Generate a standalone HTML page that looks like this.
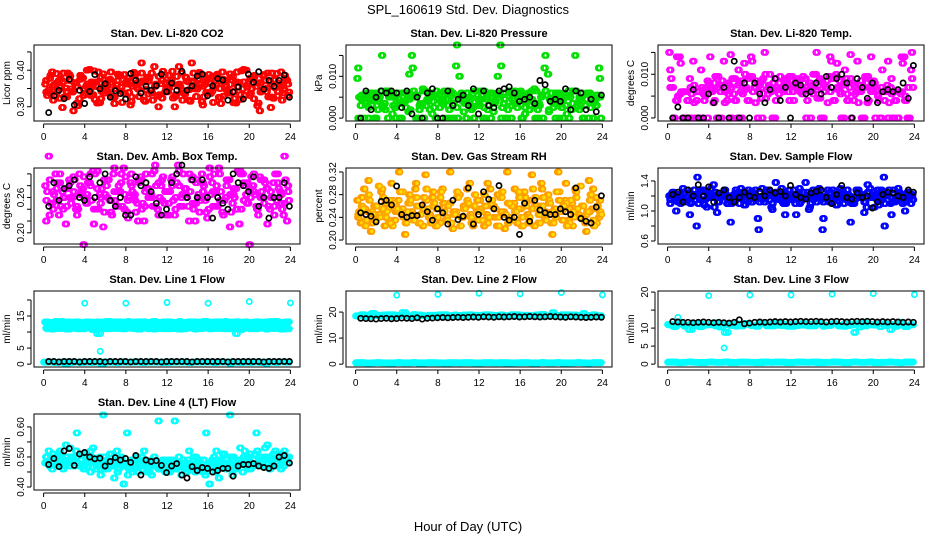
<!DOCTYPE html>
<html><head><meta charset="utf-8"><style>
html,body{margin:0;padding:0;background:#fff;}
svg{display:block;font-family:"Liberation Sans",sans-serif;}
</style></head><body>
<svg id="chart" width="936" height="540" viewBox="0 0 936 540" xmlns="http://www.w3.org/2000/svg">
<rect x="0" y="0" width="936" height="540" fill="#fff"/>
<text x="468" y="14" font-size="13" text-anchor="middle">SPL_160619  Std. Dev. Diagnostics</text>
<text x="468" y="531" font-size="13" text-anchor="middle">Hour of Day (UTC)</text>
</svg>
<script>
const xTicks=[0,4,8,12,16,20,24];
const co2A=[362,345,395,330,372,298,351,388,340,365,322,379,356,402,333,368,311,390,347,375,326,360,384,338,371,305,394,352,366,318,381,345,410,329,363,386,341,372,300,357,392,335,368,420,349,377,314,362,388,343,371,326,395,358,337,382,310,366,349,400,331,375,356,289,384,342,369,323,391,355,338,372];
const co2B=[340,378,318,365,352,392,327,371,344,310,386,349,362,331,398,355,322,374,341,367,309,389,353,336,379,327,361,348,392,315,370,338,356,383,324,366,351,397,333,362,318,380,347,371,328,390,356,339,365,312,384,350,329,373,361,342,395,320,368,354,337,381,303,366,349,392,327,375,342,360,386,331];
const co2K=[284,330,345,322,375,305,345,309,342,388,349,363,326,344,336,321,391,372,337,356,345,358,389,341,365,345,397,345,357,384,389,330,357,377,373,318,340,354,321,389,367,396,348,372,356,372,387,326];
const presA=[95,30,0,60,45,0,20,65,35,0,50,25,60,0,40,15,150,55,0,30,65,45,10,0,55,35,0,20,60,125,100,40,0,50,25,65,30,0,45,60,15,55,175,35,0,60,45,25,65,40,55,30,70,20,50,120,105,60,35,45,25,55,65,20,150,40,60,30,0,55,45,120];
const presB=[0,55,40,25,60,0,45,30,65,50,10,0,35,60,25,45,55,0,30,65,40,20,55,0,60,35,45,65,0,25,50,40,60,30,0,55,45,65,20,50,35,60,0,45,55,30,65,40,50,25,60,45,0,35,55,65,20,45,60,0,40,30,55,65,25,50,0,45,60,35,55,50];
const presK=[0,65,20,50,65,60,65,60,25,65,10,50,0,60,70,0,0,65,30,45,55,30,70,10,65,30,25,65,70,75,60,40,45,50,35,90,80,40,45,40,70,20,65,60,20,45,15,55];
const tempA=[150,70,40,140,0,60,90,130,40,0,55,70,140,35,0,60,130,40,145,55,0,60,125,40,140,70,0,45,150,55,60,0,65,70,85,60,95,80,70,55,90,65,75,100,85,80,70,95,90,100,85,75,90,70,80,60,75,0,80,70,85,65,0,60,75,70,0,60,55,140,0,110];
const tempB=[70,0,40,125,60,40,0,35,60,110,40,0,65,40,95,0,35,55,0,40,110,0,65,40,130,35,60,0,45,70,0,40,80,65,90,40,75,85,60,95,70,80,100,65,90,75,85,60,95,70,55,80,40,90,75,60,85,70,95,60,80,50,70,60,0,55,40,0,60,50,0,90];
const tempK=[0,25,0,0,65,0,0,55,35,0,70,0,130,0,80,0,80,55,35,65,90,40,70,0,80,75,55,60,80,55,95,70,90,100,80,0,90,70,45,80,35,60,65,60,65,80,45,120];
const ambA=[280,330,250,300,230,270,215,290,260,240,300,275,250,285,305,240,265,210,280,255,300,245,270,310,235,285,260,250,295,220,275,265,305,240,280,250,270,290,230,315,260,275,245,290,220,265,300,255,240,285,270,310,235,260,290,250,275,215,300,265,180,280,245,295,260,275,240,285,255,270,230,220];
const ambB=[255,290,240,275,300,260,245,285,270,230,265,295,250,280,240,305,260,235,290,255,270,245,300,265,225,280,255,290,240,270,260,300,245,285,255,270,230,295,260,280,245,265,300,250,285,235,270,260,295,245,280,255,230,290,265,275,240,300,255,285,260,270,240,290,250,275,260,245,285,265,250,270];
const ambK=[245,285,255,275,280,290,260,255,295,260,285,300,255,245,260,230,230,295,280,285,270,250,230,240,285,300,315,260,290,260,290,260,225,260,250,240,300,285,280,270,295,245,260,225,260,260,285,245];
const rhA=[270,230,290,250,215,260,240,285,225,255,300,235,270,245,210,265,250,290,230,260,315,240,275,225,255,290,235,265,220,250,280,240,260,300,225,255,270,235,245,290,260,225,275,250,320,240,265,230,255,285,245,270,225,260,300,240,280,230,255,320,250,270,235,265,290,245,260,230,305,255,275,240];
const rhB=[245,260,225,280,250,235,295,255,240,270,225,260,250,285,230,265,245,275,230,255,290,240,260,225,275,250,235,265,245,285,225,255,270,240,260,235,250,280,230,265,255,240,275,245,230,260,250,285,240,265,230,255,275,245,260,235,270,250,240,285,255,265,230,250,275,240,260,245,270,235,255,250];
const rhK=[248,245,242,232,268,270,262,295,245,240,243,243,262,250,235,255,248,228,270,236,242,292,228,245,285,272,255,296,240,235,240,210,265,233,270,253,248,245,245,255,250,245,292,238,233,230,258,278];
const flowA=[120,125,100,118,130,112,95,122,80,115,128,105,120,135,98,118,125,110,85,122,118,130,108,115,125,120,90,118,112,128,105,120,116,130,95,118,122,110,125,115,138,102,120,118,130,75,120,112,128,108,118,125,115,120,110,128,118,122,105,130,118,115,125,145,120,110,128,115,122,118,125,110];
const flowB=[115,118,122,110,125,118,112,128,120,115,108,122,118,125,112,120,128,115,110,122,118,125,115,120,112,128,118,115,122,120,110,125,118,112,122,128,115,120,110,125,118,122,115,128,120,112,118,125,115,120,122,110,128,118,115,122,120,112,125,118,120,115,128,110,122,118,115,125,120,112,118,122];
const flowK=[122,125,112,128,120,135,120,132,112,124,128,118,112,118,125,120,118,126,120,128,124,126,120,134,122,118,116,124,126,128,118,110,122,134,118,116,124,118,120,104,112,122,125,124,120,118,128,125];
const l1Hi=[13.1,13.0,13.3,12.9,13.2,13.0,13.1,12.8,13.2,13.0,12.9,13.1,13.3,13.0,13.2,13.1,12.9,13.0,13.2,13.1,13.0,13.3,12.9,13.1,13.2,13.0,13.1,12.9,13.2,13.0,13.1,13.3,13.0,12.9,13.2,13.1,13.0,13.2,13.1,12.9,13.0,13.2,13.1,13.0,13.3,13.1,13.0,13.2];
const l1Lo=[11.2,11.0,11.3,11.1,10.9,11.2,11.0,11.1,11.3,10.8,9.5,11.0,11.2,11.1,11.3,11.0,11.2,11.1,10.9,11.2,11.0,11.3,11.1,11.0,11.2,11.1,10.9,11.2,11.3,11.0,11.1,11.2,11.0,11.1,11.3,11.0,11.2,11.1,10.9,11.2,11.0,11.1,11.3,11.0,11.2,11.1,10.9,11.0];
const l1Zero=[0.6,0.7,0.5,0.6,0.2,0.7,0.6,0.5,0.7,0.6,0.6,0.2,0.7,0.6,0.5,0.7,0.6,0.6,0.7,0.5,0.6,0.7,0.6,0.5,0.7,0.6,0.6,0.7,0.5,0.6,0.7,0.6,0.6,0.5,0.7,0.6,0.7,0.6,0.5,0.6,0.7,0.6,0.5,0.7,0.6,0.6,0.7,0.6];
const l1K=[0.8,0.8,0.7,0.8,0.8,0.8,0.7,0.8,0.8,0.8,0.8,0.7,0.8,0.8,0.8,0.8,0.7,0.8,0.8,0.8,0.8,0.8,0.7,0.8,0.8,0.8,0.8,0.8,0.7,0.8,0.8,0.8,0.8,0.8,0.8,0.7,0.8,0.8,0.8,0.8,0.8,0.8,0.7,0.8,0.8,0.8,0.8,0.8];
const l1OutH=[4,5.5,8,12,16,20,24];
const l1Out=[19,4,19,19.2,19,19.5,19.1];
const l2Band=[18.5,19.0,18.2,19.5,18.6,18.4,19.0,18.3,18.7,19.8,18.5,18.2,18.9,18.6,18.4,18.8,18.5,19.0,18.6,18.3,18.7,18.9,18.5,18.6,18.8,19.0,18.4,18.7,18.9,18.6,18.5,19.0,18.7,18.8,18.6,18.9,19.1,18.5,18.8,18.7,19.0,18.6,18.9,18.8,18.5,18.7,18.9,18.6];
const l2Zero=[0.5,0.6,0.4,0.5,0.6,0.5,0.4,0.5,0.6,0.5,0.5,0.6,0.4,0.5,0.6,0.5,0.5,0.4,0.6,0.5,0.5,0.6,0.5,0.4,0.5,0.6,0.5,0.5,0.6,0.4,0.5,0.5,0.6,0.5,0.4,0.5,0.6,0.5,0.5,0.6,0.4,0.5,0.5,0.6,0.5,0.4,0.5,0.6];
const l2K=[17.6,17.5,17.4,17.3,17.5,17.6,17.4,17.5,17.7,17.6,17.5,17.8,17.3,17.6,17.7,17.8,17.9,17.8,17.9,18.0,17.9,18.0,18.1,18.0,18.2,18.1,18.0,18.2,18.1,18.2,18.3,18.1,18.2,18.3,18.2,18.1,18.2,18.3,18.2,18.1,18.0,18.2,18.1,18.0,17.9,18.0,18.1,18.0];
const l2OutH=[4,8,12,16,20,24];
const l2Out=[26.5,26.8,27.2,27.0,27.5,26.6];
const l3Band=[11.0,10.5,11.6,10.8,9.6,11.2,10.4,11.0,10.9,11.5,10.3,8.8,10.7,11.1,10.6,11.3,10.8,10.5,11.2,10.9,10.6,11.4,10.7,11.0,10.5,11.2,10.8,11.1,10.6,11.3,10.9,10.7,11.2,10.8,10.5,11.1,10.9,11.3,10.6,11.0,10.8,11.2,10.7,11.0,10.5,11.1,10.4,10.9];
const l3Zero=[0.5,0.6,0.4,0.5,0.6,0.5,0.4,0.5,0.6,0.5,0.5,0.6,0.4,0.5,0.6,0.5,0.5,0.4,0.6,0.5,0.5,0.6,0.5,0.4,0.5,0.6,0.5,0.5,0.6,0.4,0.5,0.5,0.6,0.5,0.4,0.5,0.6,0.5,0.5,0.6,0.4,0.5,0.5,0.6,0.5,0.4,0.5,0.6];
const l3K=[11.8,11.7,11.6,11.6,11.5,11.6,11.7,11.6,11.5,11.6,11.5,11.4,11.6,12.3,11.2,11.4,11.6,11.7,11.6,11.7,11.8,11.7,11.8,11.7,11.8,11.9,11.8,11.8,11.9,11.8,11.7,11.8,11.9,11.8,11.7,11.8,11.9,11.8,11.9,11.8,11.7,11.8,11.7,11.8,11.7,11.6,11.7,11.6];
const l3OutH=[1,4,5.5,8,12,16,20,24];
const l3Out=[13,19,4.5,19.2,19.2,19.4,19.6,19.3];
const l4A=[480,520,460,500,510,470,540,490,500,520,470,510,495,480,530,460,500,640,490,510,470,520,480,410,580,460,490,500,470,520,450,480,500,470,460,490,450,480,620,470,440,460,490,470,450,480,460,440,470,490,450,430,470,460,480,440,470,490,450,480,460,470,580,490,470,500,460,510,480,490,470,500];
const l4B=[500,490,510,470,520,480,500,530,490,480,510,470,500,520,480,490,460,500,480,510,470,490,500,480,470,490,460,480,500,470,450,490,470,460,480,450,470,490,460,480,470,450,480,460,470,490,450,460,480,470,460,490,470,480,460,490,470,480,500,470,460,490,480,470,500,480,490,470,500,480,490,480];
const l4K=[475,495,468,520,528,472,510,515,500,494,496,470,485,498,490,495,482,505,440,490,485,488,472,448,470,478,440,430,468,455,465,462,450,455,462,462,436,470,475,475,478,470,465,462,470,500,505,480];

const NS="http://www.w3.org/2000/svg";
const svg=document.getElementById('chart');
function mk(tag,attrs,parent){const e=document.createElementNS(NS,tag);for(const k in attrs)e.setAttribute(k,attrs[k]);(parent||svg).appendChild(e);return e;}
function hoursFor(n,start,end){const h=[];for(let i=0;i<n;i++)h.push(start+(end-start)*i/(n-1));return h;}

const cloudReps=[0,0.08,0.16,0.24];
const bandReps=[0,0.1,0.2,0.3,0.4];
const panels=[
 {name:'co2',title:'Stan. Dev. Li-820 CO2',ylab:'Licor ppm',col:0,row:0,lo:0.261,hi:0.469,ticks:[0.30,0.35,0.40,0.45],labels:{'0.3':'0.30','0.4':'0.40'},div:1000,reps:cloudReps,
  series:[{v:co2A,c:'#ff0000',s:0.1,e:23.6},{v:co2B,c:'#ff0000',s:0.2,e:23.7}],black:co2K},
 {name:'pressure',title:'Stan. Dev. Li-820 Pressure',ylab:'kPa',col:1,row:0,lo:-0.0007,hi:0.0175,ticks:[0,0.005,0.010,0.015],labels:{'0':'0.000','0.01':'0.010'},div:10000,reps:cloudReps,
  series:[{v:presA,c:'#00e000',s:0.1,e:23.6},{v:presB,c:'#00e000',s:0.2,e:23.7}],black:presK},
 {name:'li820-temp',title:'Stan. Dev. Li-820 Temp.',ylab:'degrees C',col:2,row:0,lo:-0.0007,hi:0.0167,ticks:[0,0.005,0.010,0.015],labels:{'0':'0.000','0.01':'0.010'},div:10000,reps:cloudReps,
  series:[{v:tempA,c:'#ff00ff',s:0.1,e:23.6},{v:tempB,c:'#ff00ff',s:0.2,e:23.7}],black:tempK},
 {name:'amb-box-temp',title:'Stan. Dev. Amb. Box Temp.',ylab:'degrees C',col:0,row:1,lo:0.181,hi:0.310,ticks:[0.20,0.22,0.24,0.26,0.28,0.30],labels:{'0.2':'0.20','0.26':'0.26'},div:1000,reps:cloudReps,
  series:[{v:ambA,c:'#ff00ff',s:0.1,e:23.6},{v:ambB,c:'#ff00ff',s:0.2,e:23.7}],black:ambK},
 {name:'gas-stream-rh',title:'Stan. Dev. Gas Stream RH',ylab:'percent',col:1,row:1,lo:0.193,hi:0.327,ticks:[0.20,0.24,0.28,0.32],labels:{'0.2':'0.20','0.24':'0.24','0.28':'0.28','0.32':'0.32'},div:1000,reps:cloudReps,
  series:[{v:rhA,c:'#ff9900',f:'#ffe000',s:0.1,e:23.6},{v:rhB,c:'#ffa500',f:'#ffe000',s:0.2,e:23.7}],black:rhK},
 {name:'sample-flow',title:'Stan. Dev. Sample Flow',ylab:'ml/min',col:2,row:1,lo:0.56,hi:1.573,ticks:[0.6,0.8,1.0,1.2,1.4],labels:{'0.6':'0.6','1':'1.0','1.4':'1.4'},div:100,reps:cloudReps,
  series:[{v:flowA,c:'#0000ff',s:0.1,e:23.6},{v:flowB,c:'#0000ff',s:0.2,e:23.7}],black:flowK},
 {name:'line1-flow',title:'Stan. Dev. Line 1 Flow',ylab:'ml/min',col:0,row:2,lo:-0.9,hi:22.8,ticks:[0,5,10,15,20],labels:{'0':'0','5':'5','15':'15'},div:1,reps:bandReps,
  series:[{v:l1Hi,c:'#00ffff',s:0.1,e:23.5},{v:l1Lo,c:'#00ffff',s:0.2,e:23.5},{v:l1Zero,c:'#00ffff',s:0,e:23.5},{v:l1Out,h:l1OutH,c:'#00ffff'}],black:l1K},
 {name:'line2-flow',title:'Stan. Dev. Line 2 Flow',ylab:'ml/min',col:1,row:2,lo:-1.1,hi:28.1,ticks:[0,10,20],labels:{'0':'0','10':'10','20':'20'},div:1,reps:bandReps,
  series:[{v:l2Band,c:'#00ffff',s:0,e:23.5},{v:l2Zero,c:'#00ffff',s:0,e:23.5},{v:l2Out,h:l2OutH,c:'#00ffff'}],black:l2K},
 {name:'line3-flow',title:'Stan. Dev. Line 3 Flow',ylab:'ml/min',col:2,row:2,lo:-0.8,hi:20.3,ticks:[0,5,10,15,20],labels:{'0':'0','5':'5','10':'10','20':'20'},div:1,reps:bandReps,
  series:[{v:l3Band,c:'#00ffff',s:0,e:23.5},{v:l3Zero,c:'#00ffff',s:0,e:23.5},{v:l3Out,h:l3OutH,c:'#00ffff'}],black:l3K},
 {name:'line4-flow',title:'Stan. Dev. Line 4 (LT) Flow',ylab:'ml/min',col:0,row:3,lo:0.39,hi:0.643,ticks:[0.40,0.45,0.50,0.55,0.60],labels:{'0.4':'0.40','0.5':'0.50','0.6':'0.60'},div:1000,reps:cloudReps,
  series:[{v:l4A,c:'#00ffff',s:0.1,e:23.6},{v:l4B,c:'#00ffff',s:0.2,e:23.7}],black:l4K}
];

panels.forEach(p=>{
  const L=34+312*p.col, R=L+266, T=45+123*p.row, B=T+76;
  const xS=h=>L+9.6+h*(R-L-19.2)/24;
  const yS=v=>B-(v-p.lo)/(p.hi-p.lo)*(B-T);
  const g=mk('g',{});
  
  
  const t=mk('text',{x:(L+R)/2,y:T-8,'font-size':11,'font-weight':'bold','text-anchor':'middle'},g);
  t.textContent=p.title;
  
  
  const pg=mk('g',{fill:'none','stroke-width':1.7},g);
  
  
  p.series.forEach(s=>{
    if(s.h){
      s.v.forEach((v,i)=>{
        const c=mk('circle',{cx:xS(s.h[i]).toFixed(1),cy:yS(v/p.div).toFixed(1),r:2.6,stroke:s.c},pg);
        
        
      });
      return;
    }
    p.reps.forEach((off,ri)=>{
      const vals=ri%2? s.v.slice().reverse() : s.v;
      const hrs=hoursFor(vals.length,s.s+off,s.e+off);
      vals.forEach((v,i)=>{
        const c=mk('circle',{cx:xS(hrs[i]).toFixed(1),cy:yS(v/p.div).toFixed(1),r:2.6,stroke:s.c,fill:s.f||'none'},pg);
        
        
      });
    });
  });
  const kh=hoursFor(p.black.length,0.5,23.9);
  p.black.forEach((v,i)=>{
    const c=mk('circle',{cx:xS(kh[i]).toFixed(1),cy:yS(v/p.div).toFixed(1),r:2.6,stroke:'#000'},pg);
    
    
  });
  const box=mk('rect',{x:L,y:T,width:R-L,height:B-T,fill:'none',stroke:'#000','stroke-width':1},g);
  
  
  const xa=mk('g',{},g);
  
  
  mk('line',{x1:xS(0),x2:xS(24),y1:B+3,y2:B+3,stroke:'#000'},xa);
  xTicks.forEach(h=>{
    mk('line',{x1:xS(h),x2:xS(h),y1:B+3,y2:B+7,stroke:'#000'},xa);
    const tl=mk('text',{x:xS(h),y:B+19,'font-size':10,'text-anchor':'middle'},xa);
    tl.textContent=h;
    
    
  });
  const ya=mk('g',{},g);
  
  
  mk('line',{x1:L-3,x2:L-3,y1:yS(p.ticks[0]),y2:yS(p.ticks[p.ticks.length-1]),stroke:'#000'},ya);
  p.ticks.forEach(v=>{
    const y=yS(v);
    mk('line',{x1:L-7,x2:L-3,y1:y,y2:y,stroke:'#000'},ya);
    const key=String(+v.toFixed(4));
    if(p.labels[key]!==undefined){
      const tl=mk('text',{x:0,y:0,'font-size':10,'text-anchor':'middle',transform:`translate(${L-10},${y}) rotate(-90)`},ya);
      tl.textContent=p.labels[key];
      
      
    }
  });
  const yl=mk('text',{x:0,y:0,'font-size':10,'text-anchor':'middle',transform:`translate(${L-24},${(T+B)/2}) rotate(-90)`},g);
  yl.textContent=p.ylab;
  
  
});
</script>
</body></html>
